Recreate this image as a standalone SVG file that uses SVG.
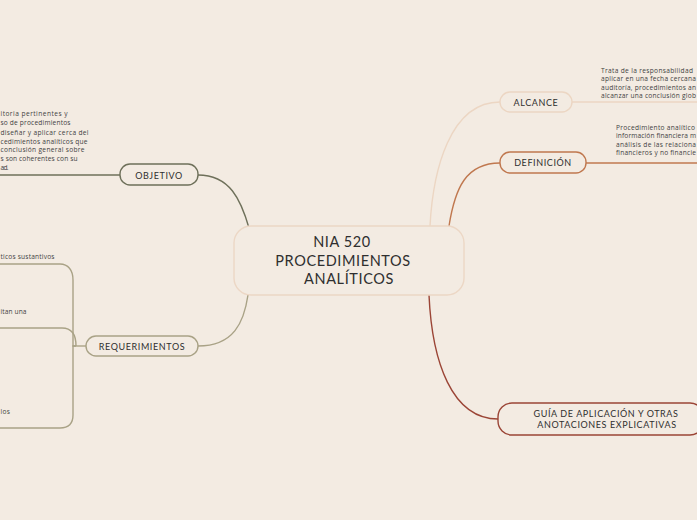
<svg xmlns="http://www.w3.org/2000/svg" width="697" height="520" viewBox="0 0 697 520">
<style>
.bg{fill:#f3ebe2}
.node{fill:#f3ebe2;stroke-width:1.4}
.lbl{font-family:Lato,"Liberation Sans",sans-serif;font-size:9px;letter-spacing:0.6px;fill:#2f2f2f;text-anchor:middle}
.main{font-family:Lato,"Liberation Sans",sans-serif;font-size:14.5px;letter-spacing:0.6px;fill:#2f2f2f;text-anchor:middle}
.desc{font-family:"Open Sans","Liberation Sans",sans-serif;font-size:6.6px;fill:#3f3f3f}
.c{fill:none;stroke-width:1.4}
</style>
<rect class="bg" x="0" y="0" width="697" height="520"/>
<g id="connectors">
  <path class="c" stroke="#6e705a" d="M198,175 C230,175 241,200 249,228"/>
  <path class="c" stroke="#6e705a" d="M120,175 L0,175"/>
  <path class="c" stroke="#a9a286" d="M198,346 C234,346 244,322 248,295"/>
  <path class="c" stroke="#a9a286" d="M86,346 L76,346"/>
  <path class="c" stroke="#a9a286" d="M76,346 L73,346 L73,280 C73,270 68,264 60,264 L0,264"/>
  <path class="c" stroke="#a9a286" d="M76,346 C76,336 73,328 62,328 L0,328"/>
  <path class="c" stroke="#a9a286" d="M76,346 L73,346 L73,415 C73,424 68,428 60,428 L0,428"/>
  <path class="c" stroke="#ecd6c3" d="M430,226 C433,170 450,102 500,102"/>
  <path class="c" stroke="#ecd6c3" d="M572,102 L697,102"/>
  <path class="c" stroke="#c0784f" d="M449,226 C455,188 466,163 500,163"/>
  <path class="c" stroke="#c0784f" d="M586,163 L697,163"/>
  <path class="c" stroke="#9b4536" d="M429,295 C432,362 452,419 498,419"/>
</g>
<g id="central">
  <rect class="node" x="234" y="226" width="230" height="69" rx="17" stroke="#ecd7c5" stroke-width="2"/>
  <text class="main" x="342" y="247">NIA 520</text>
  <text class="main" x="343" y="266">PROCEDIMIENTOS</text>
  <text class="main" x="349" y="284">ANALÍTICOS</text>
</g>
<g id="objetivo">
  <rect class="node" x="120" y="164" width="78" height="21" rx="10" stroke="#6e705a"/>
  <text class="lbl" x="159" y="178.5">OBJETIVO</text>
  <text class="desc" x="0.5" y="116" textLength="67">itoria pertinentes y</text>
  <text class="desc" x="0.5" y="125" textLength="70">so de procedimientos</text>
  <text class="desc" x="0.5" y="135" textLength="88">diseñar y aplicar cerca del</text>
  <text class="desc" x="0.5" y="143.5" textLength="87">cedimientos analíticos que</text>
  <text class="desc" x="0.5" y="152" textLength="84">conclusión general sobre</text>
  <text class="desc" x="0.5" y="161" textLength="77">s son coherentes con su</text>
  <text class="desc" x="0.5" y="170" textLength="8">ad.</text>
</g>
<g id="requerimientos">
  <rect class="node" x="86" y="336" width="112" height="20" rx="10" stroke="#a9a286"/>
  <text class="lbl" x="142" y="349.5">REQUERIMIENTOS</text>
  <text class="desc" x="0.5" y="259" textLength="54">ticos sustantivos</text>
  <text class="desc" x="0.5" y="314" textLength="26">itan una</text>
  <text class="desc" x="0.5" y="414" textLength="9.5">los</text>
</g>
<g id="alcance">
  <rect class="node" x="500" y="92" width="72" height="20" rx="10" stroke="#ecd6c3"/>
  <text class="lbl" x="536" y="105.5">ALCANCE</text>
  <text class="desc" x="601" y="72.5" textLength="92">Trata de la responsabilidad</text>
  <text class="desc" x="601" y="81" textLength="95">aplicar en una fecha cercana</text>
  <text class="desc" x="601" y="89.5" textLength="95">auditoría, procedimientos an</text>
  <text class="desc" x="601" y="97.5" textLength="95">alcanzar una conclusión glob</text>
</g>
<g id="definicion">
  <rect class="node" x="500" y="152" width="86" height="21" rx="10" stroke="#c0784f"/>
  <text class="lbl" x="543" y="166">DEFINICIÓN</text>
  <text class="desc" x="616" y="129.5" textLength="79">Procedimiento analítico</text>
  <text class="desc" x="616" y="138" textLength="80">información financiera m</text>
  <text class="desc" x="616" y="146.5" textLength="80">análisis de las relaciona</text>
  <text class="desc" x="616" y="154.5" textLength="80">financieros y no financie</text>
</g>
<g id="guia">
  <rect class="node" x="498" y="403" width="206" height="32" rx="14" stroke="#9b4536"/>
  <text class="lbl" x="606" y="417">GUÍA DE APLICACIÓN Y OTRAS</text>
  <text class="lbl" x="607" y="428">ANOTACIONES EXPLICATIVAS</text>
</g>
</svg>
